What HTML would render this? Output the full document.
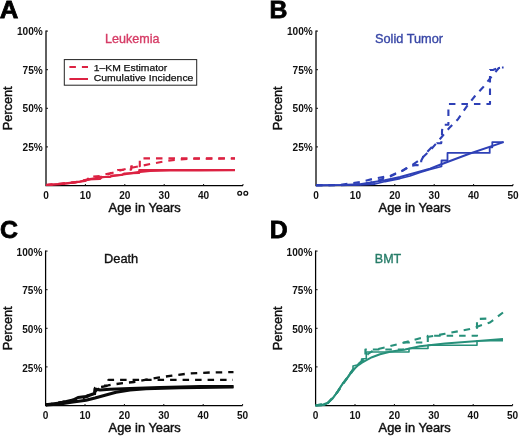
<!DOCTYPE html>
<html><head><meta charset="utf-8"><style>
html,body{margin:0;padding:0;background:#fff;}
svg{display:block;will-change:transform;}
text{font-family:"Liberation Sans", sans-serif;}
.pl{font-size:24.8px;font-weight:bold;fill:#000;stroke:#000;stroke-width:0.8px;}
.tk{font-size:10.1px;font-weight:bold;fill:#111;}
.al{font-size:12.8px;font-weight:normal;fill:#111;stroke:#111;stroke-width:0.45px;}
.ti{font-size:12.4px;stroke-width:0.35px;}
.lg{font-size:9.9px;fill:#111;stroke:#111;stroke-width:0.25px;}
</style></head><body>
<svg width="520" height="438" viewBox="0 0 520 438">
<rect width="520" height="438" fill="#fff"/>
<text x="-0.3" y="18.4" class="pl" textLength="18.6" lengthAdjust="spacingAndGlyphs">A</text>
<text x="269.5" y="18.4" class="pl">B</text>
<text x="-0.1" y="237.8" class="pl">C</text>
<text x="269.8" y="237.9" class="pl">D</text>

<path d="M46.0,30.4 V185.5 H243.0" fill="none" stroke="#000" stroke-width="1.25"/>
<line x1="46.0" y1="146.9" x2="48.0" y2="146.9" stroke="#111" stroke-width="1"/>
<text x="42.8" y="150.8" text-anchor="end" class="tk">25%</text>
<line x1="46.0" y1="108.3" x2="48.0" y2="108.3" stroke="#111" stroke-width="1"/>
<text x="42.8" y="112.2" text-anchor="end" class="tk">50%</text>
<line x1="46.0" y1="69.7" x2="48.0" y2="69.7" stroke="#111" stroke-width="1"/>
<text x="42.8" y="73.6" text-anchor="end" class="tk">75%</text>
<line x1="46.0" y1="31.1" x2="48.0" y2="31.1" stroke="#111" stroke-width="1"/>
<text x="42.8" y="35.0" text-anchor="end" class="tk">100%</text>
<text x="46.0" y="198.5" text-anchor="middle" class="tk">0</text>
<line x1="85.4" y1="185.5" x2="85.4" y2="184.0" stroke="#111" stroke-width="1"/>
<text x="85.4" y="198.5" text-anchor="middle" class="tk">10</text>
<line x1="124.8" y1="185.5" x2="124.8" y2="184.0" stroke="#111" stroke-width="1"/>
<text x="124.8" y="198.5" text-anchor="middle" class="tk">20</text>
<line x1="164.2" y1="185.5" x2="164.2" y2="184.0" stroke="#111" stroke-width="1"/>
<text x="164.2" y="198.5" text-anchor="middle" class="tk">30</text>
<line x1="203.6" y1="185.5" x2="203.6" y2="184.0" stroke="#111" stroke-width="1"/>
<text x="203.6" y="198.5" text-anchor="middle" class="tk">40</text>
<line x1="243.0" y1="185.5" x2="243.0" y2="184.0" stroke="#111" stroke-width="1"/>
<text x="108.6" y="212.2" class="al" textLength="72.2" lengthAdjust="spacingAndGlyphs">Age in Years</text>
<text transform="translate(11.6,130.2) rotate(-90)" class="al" textLength="43.8" lengthAdjust="spacingAndGlyphs">Percent</text>
<text x="105.0" y="42.8" class="ti" fill="#d63c66" stroke="#d63c66" textLength="54.4" lengthAdjust="spacingAndGlyphs">Leukemia</text>

<path d="M316.0,30.4 V185.5 H513.0" fill="none" stroke="#000" stroke-width="1.25"/>
<line x1="316.0" y1="146.9" x2="318.0" y2="146.9" stroke="#111" stroke-width="1"/>
<text x="312.8" y="150.8" text-anchor="end" class="tk">25%</text>
<line x1="316.0" y1="108.3" x2="318.0" y2="108.3" stroke="#111" stroke-width="1"/>
<text x="312.8" y="112.2" text-anchor="end" class="tk">50%</text>
<line x1="316.0" y1="69.7" x2="318.0" y2="69.7" stroke="#111" stroke-width="1"/>
<text x="312.8" y="73.6" text-anchor="end" class="tk">75%</text>
<line x1="316.0" y1="31.1" x2="318.0" y2="31.1" stroke="#111" stroke-width="1"/>
<text x="312.8" y="35.0" text-anchor="end" class="tk">100%</text>
<text x="316.0" y="198.5" text-anchor="middle" class="tk">0</text>
<line x1="355.4" y1="185.5" x2="355.4" y2="184.0" stroke="#111" stroke-width="1"/>
<text x="355.4" y="198.5" text-anchor="middle" class="tk">10</text>
<line x1="394.8" y1="185.5" x2="394.8" y2="184.0" stroke="#111" stroke-width="1"/>
<text x="394.8" y="198.5" text-anchor="middle" class="tk">20</text>
<line x1="434.2" y1="185.5" x2="434.2" y2="184.0" stroke="#111" stroke-width="1"/>
<text x="434.2" y="198.5" text-anchor="middle" class="tk">30</text>
<line x1="473.6" y1="185.5" x2="473.6" y2="184.0" stroke="#111" stroke-width="1"/>
<text x="473.6" y="198.5" text-anchor="middle" class="tk">40</text>
<line x1="513.0" y1="185.5" x2="513.0" y2="184.0" stroke="#111" stroke-width="1"/>
<text x="513.0" y="198.5" text-anchor="middle" class="tk">50</text>
<text x="378.6" y="212.2" class="al" textLength="72.2" lengthAdjust="spacingAndGlyphs">Age in Years</text>
<text transform="translate(281.6,130.2) rotate(-90)" class="al" textLength="43.8" lengthAdjust="spacingAndGlyphs">Percent</text>
<text x="375.0" y="42.8" class="ti" fill="#3847a6" stroke="#3847a6" textLength="68.0" lengthAdjust="spacingAndGlyphs">Solid Tumor</text>

<path d="M45.6,250.4 V405.5 H242.6" fill="none" stroke="#000" stroke-width="1.25"/>
<line x1="45.6" y1="366.9" x2="47.6" y2="366.9" stroke="#111" stroke-width="1"/>
<text x="42.4" y="371.5" text-anchor="end" class="tk">25%</text>
<line x1="45.6" y1="328.3" x2="47.6" y2="328.3" stroke="#111" stroke-width="1"/>
<text x="42.4" y="332.9" text-anchor="end" class="tk">50%</text>
<line x1="45.6" y1="289.7" x2="47.6" y2="289.7" stroke="#111" stroke-width="1"/>
<text x="42.4" y="294.3" text-anchor="end" class="tk">75%</text>
<line x1="45.6" y1="251.1" x2="47.6" y2="251.1" stroke="#111" stroke-width="1"/>
<text x="42.4" y="255.7" text-anchor="end" class="tk">100%</text>
<text x="45.6" y="418.5" text-anchor="middle" class="tk">0</text>
<line x1="85.0" y1="405.5" x2="85.0" y2="404.0" stroke="#111" stroke-width="1"/>
<text x="85.0" y="418.5" text-anchor="middle" class="tk">10</text>
<line x1="124.4" y1="405.5" x2="124.4" y2="404.0" stroke="#111" stroke-width="1"/>
<text x="124.4" y="418.5" text-anchor="middle" class="tk">20</text>
<line x1="163.8" y1="405.5" x2="163.8" y2="404.0" stroke="#111" stroke-width="1"/>
<text x="163.8" y="418.5" text-anchor="middle" class="tk">30</text>
<line x1="203.2" y1="405.5" x2="203.2" y2="404.0" stroke="#111" stroke-width="1"/>
<text x="203.2" y="418.5" text-anchor="middle" class="tk">40</text>
<line x1="242.6" y1="405.5" x2="242.6" y2="404.0" stroke="#111" stroke-width="1"/>
<text x="242.6" y="418.5" text-anchor="middle" class="tk">50</text>
<text x="108.6" y="432.2" class="al" textLength="72.2" lengthAdjust="spacingAndGlyphs">Age in Years</text>
<text transform="translate(11.6,350.2) rotate(-90)" class="al" textLength="43.8" lengthAdjust="spacingAndGlyphs">Percent</text>
<text x="104.0" y="262.8" class="ti" fill="#111" stroke="#111" textLength="34.2" lengthAdjust="spacingAndGlyphs">Death</text>

<path d="M315.6,250.4 V405.5 H512.6" fill="none" stroke="#000" stroke-width="1.25"/>
<line x1="315.6" y1="366.9" x2="317.6" y2="366.9" stroke="#111" stroke-width="1"/>
<text x="312.4" y="371.5" text-anchor="end" class="tk">25%</text>
<line x1="315.6" y1="328.3" x2="317.6" y2="328.3" stroke="#111" stroke-width="1"/>
<text x="312.4" y="332.9" text-anchor="end" class="tk">50%</text>
<line x1="315.6" y1="289.7" x2="317.6" y2="289.7" stroke="#111" stroke-width="1"/>
<text x="312.4" y="294.3" text-anchor="end" class="tk">75%</text>
<line x1="315.6" y1="251.1" x2="317.6" y2="251.1" stroke="#111" stroke-width="1"/>
<text x="312.4" y="255.7" text-anchor="end" class="tk">100%</text>
<text x="315.6" y="418.5" text-anchor="middle" class="tk">0</text>
<line x1="355.0" y1="405.5" x2="355.0" y2="404.0" stroke="#111" stroke-width="1"/>
<text x="355.0" y="418.5" text-anchor="middle" class="tk">10</text>
<line x1="394.4" y1="405.5" x2="394.4" y2="404.0" stroke="#111" stroke-width="1"/>
<text x="394.4" y="418.5" text-anchor="middle" class="tk">20</text>
<line x1="433.8" y1="405.5" x2="433.8" y2="404.0" stroke="#111" stroke-width="1"/>
<text x="433.8" y="418.5" text-anchor="middle" class="tk">30</text>
<line x1="473.2" y1="405.5" x2="473.2" y2="404.0" stroke="#111" stroke-width="1"/>
<text x="473.2" y="418.5" text-anchor="middle" class="tk">40</text>
<line x1="512.6" y1="405.5" x2="512.6" y2="404.0" stroke="#111" stroke-width="1"/>
<text x="512.6" y="418.5" text-anchor="middle" class="tk">50</text>
<text x="378.6" y="432.2" class="al" textLength="72.2" lengthAdjust="spacingAndGlyphs">Age in Years</text>
<text transform="translate(281.6,350.2) rotate(-90)" class="al" textLength="43.8" lengthAdjust="spacingAndGlyphs">Percent</text>
<text x="374.8" y="262.8" class="ti" fill="#267c68" stroke="#267c68" textLength="26.4" lengthAdjust="spacingAndGlyphs">BMT</text>
<circle cx="239.7" cy="193.3" r="1.9" fill="none" stroke="#111" stroke-width="1.3"/>
<circle cx="245.8" cy="193.3" r="1.9" fill="none" stroke="#111" stroke-width="1.3"/>
<rect x="64.3" y="59.6" width="132.4" height="25.6" fill="#fff" stroke="#222" stroke-width="1"/>
<line x1="69.4" y1="66.9" x2="88" y2="66.9" stroke="#dc2242" stroke-width="2" stroke-dasharray="6.5,6"/>
<line x1="69.4" y1="79" x2="88" y2="79" stroke="#dc2242" stroke-width="2"/>
<text x="93.8" y="70.7" class="lg" textLength="73.4" lengthAdjust="spacingAndGlyphs">1–KM Estimator</text>
<text x="93.8" y="80.9" class="lg" textLength="99.6" lengthAdjust="spacingAndGlyphs">Cumulative Incidence</text>
<polyline points="46.0,185.0 60.0,184.0 70.0,182.8 80.0,181.5 90.0,179.2 100.0,177.5 110.0,176.5 120.0,175.0 130.0,173.3 140.0,171.8 150.0,171.0 170.0,170.5 200.0,170.3 235.0,170.2" fill="none" stroke="#dc2242" stroke-width="2.2" stroke-linejoin="round" stroke-linecap="butt" />
<polyline points="46.0,185.0 62.0,184.0 75.0,182.5 85.0,181.0 88.0,179.5 100.0,179.0 102.0,177.0 110.0,177.0 112.0,175.5 122.0,175.0 124.0,173.5 139.2,173.0 139.2,170.0 235.0,170.0" fill="none" stroke="#dc2242" stroke-width="2" stroke-linejoin="round" stroke-linecap="butt" />
<polyline points="46.0,185.0 62.0,184.0 75.0,182.5 88.0,179.2 88.0,177.0 100.0,176.0 104.0,174.5 110.0,173.3 118.0,170.0 131.2,169.6 131.2,166.2 139.8,166.2 139.8,158.4 235.0,158.4" fill="none" stroke="#dc2242" stroke-width="2.1" stroke-linejoin="round" stroke-linecap="butt" stroke-dasharray="6.5,6" />
<polyline points="46.0,185.0 80.0,181.5 100.0,177.0 118.0,171.0 130.0,168.0 143.0,165.5 155.0,163.1 165.0,161.3 175.0,159.8 190.0,158.8 235.0,158.5" fill="none" stroke="#dc2242" stroke-width="2.1" stroke-linejoin="round" stroke-linecap="butt" stroke-dasharray="6.5,6" />
<polyline points="316.0,185.3 350.0,185.0 370.0,183.0 390.0,176.5 402.0,171.0 410.0,166.0 416.4,165.0 421.2,165.6 421.2,160.8 424.0,155.2 432.0,147.0 437.2,143.2 441.2,143.2 442.0,138.4 442.0,131.0 442.8,124.8 448.4,124.8 448.4,104.0 490.0,104.0 490.0,70.0 493.0,70.0 498.8,67.5 503.6,67.5" fill="none" stroke="#2e40b6" stroke-width="2.1" stroke-linejoin="round" stroke-linecap="butt" stroke-dasharray="6.5,6" />
<polyline points="316.0,185.3 340.0,185.0 360.0,182.0 374.6,178.5 390.0,175.9 402.1,170.8 410.7,166.0 421.0,159.0 431.0,149.5 440.0,139.0 449.2,128.0 458.0,119.2 466.8,106.4 475.0,96.0 483.5,86.7 492.0,76.0 498.8,68.0 503.6,67.5" fill="none" stroke="#2e40b6" stroke-width="2.1" stroke-linejoin="round" stroke-linecap="butt" stroke-dasharray="6.5,6" />
<polyline points="316.0,185.3 360.0,184.8 375.0,184.0 385.0,181.5 400.0,178.5 410.0,176.0 420.0,172.5 430.0,169.5 441.5,166.5 441.5,160.5 447.5,160.5 447.5,152.9 489.7,152.9 489.7,147.3 492.3,147.3 492.3,142.1 503.6,142.1" fill="none" stroke="#2e40b6" stroke-width="1.8" stroke-linejoin="round" stroke-linecap="butt" />
<polyline points="316.0,185.3 340.0,185.0 360.0,184.2 385.0,180.2 400.0,177.0 420.0,171.5 430.0,168.6 440.0,164.8 470.0,153.5 503.6,142.1" fill="none" stroke="#2e40b6" stroke-width="2" stroke-linejoin="round" stroke-linecap="butt" />
<polyline points="46.0,404.8 60.0,403.0 73.0,400.0 78.0,397.5 86.0,396.5 94.5,393.5 95.0,389.0 100.0,390.0 110.0,389.3 130.0,388.6 160.0,387.4 200.0,386.6 233.5,386.4" fill="none" stroke="#0a0a0a" stroke-width="3" stroke-linejoin="round" stroke-linecap="butt" />
<polyline points="46.0,405.0 60.0,404.0 73.0,402.0 86.0,400.2 95.0,398.0 105.0,395.3 116.0,392.3 130.0,390.0 146.0,388.8 180.0,387.8 233.5,387.1" fill="none" stroke="#0a0a0a" stroke-width="3" stroke-linejoin="round" stroke-linecap="butt" />
<polyline points="46.0,405.0 80.0,399.0 95.0,394.0 95.0,388.0 108.5,385.8 108.5,379.9 233.0,379.9" fill="none" stroke="#0a0a0a" stroke-width="2.3" stroke-linejoin="round" stroke-linecap="butt" stroke-dasharray="6.5,6" />
<polyline points="46.0,405.0 73.0,400.0 86.0,396.5 95.0,392.0 101.5,386.0 108.0,385.3 115.0,384.2 124.0,383.0 134.0,382.0 145.0,379.8 158.0,377.7 172.0,375.6 188.8,373.5 210.0,372.5 233.5,372.1" fill="none" stroke="#0a0a0a" stroke-width="2.3" stroke-linejoin="round" stroke-linecap="butt" stroke-dasharray="6.5,6" />
<polyline points="315.6,405.5 322.0,405.0 327.8,402.8 332.7,398.4 337.7,391.5 342.6,383.7 347.5,377.8 352.4,370.9 357.3,366.0 362.0,362.7 366.0,360.3 372.0,357.2 380.0,354.3 390.0,351.7 405.0,349.5 420.0,346.3 445.0,343.6 478.0,341.0 503.0,339.0" fill="none" stroke="#27907a" stroke-width="2" stroke-linejoin="round" stroke-linecap="butt" />
<polyline points="315.6,405.5 324.0,405.2 328.0,403.0 332.0,399.0 336.0,394.0 340.0,387.5 344.0,382.0 348.0,376.5 353.0,369.0 353.0,366.0 357.0,365.0 361.6,362.0 361.6,359.0 366.3,358.5 366.3,352.0 409.0,352.0 409.0,348.5 428.0,348.5 428.0,345.2 477.0,345.2 477.0,340.7 503.0,340.7" fill="none" stroke="#27907a" stroke-width="1.6" stroke-linejoin="round" stroke-linecap="butt" />
<polyline points="315.6,405.5 324.0,405.2 328.0,403.0 336.0,394.0 344.0,382.0 352.0,371.0 358.0,364.5 363.0,360.0 365.4,357.5 365.4,349.5 404.0,349.5 404.0,342.5 427.8,342.5 427.8,335.8 477.0,335.8 477.0,319.0 490.0,318.5" fill="none" stroke="#27907a" stroke-width="2.1" stroke-linejoin="round" stroke-linecap="butt" stroke-dasharray="6.5,6" />
<polyline points="315.6,405.5 328.0,402.8 338.0,391.5 347.5,377.8 355.0,368.0 362.0,361.0 368.0,354.0 374.0,350.0 385.0,347.5 420.0,338.3 445.0,333.8 470.0,329.0 490.0,322.5 503.0,312.5" fill="none" stroke="#27907a" stroke-width="2.1" stroke-linejoin="round" stroke-linecap="butt" stroke-dasharray="6.5,6" />
</svg>
</body></html>
